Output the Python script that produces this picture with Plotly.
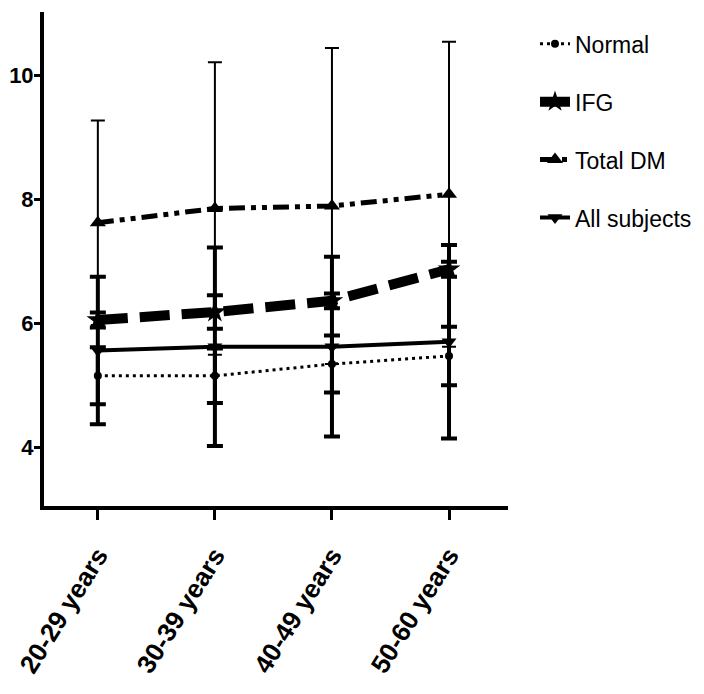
import plotly.graph_objects as go

categories = ["20-29 years", "30-39 years", "40-49 years", "50-60 years"]

normal_mean = [5.15, 5.15, 5.34, 5.47]
normal_sd = [0.46, 0.44, 0.46, 0.47]

ifg_mean = [6.05, 6.18, 6.36, 6.87]
ifg_sd = [0.12, 0.27, 0.12, 0.12]

dm_mean = [7.62, 7.85, 7.89, 8.08]
dm_sd = [1.65, 2.36, 2.55, 2.46]

all_mean = [5.56, 5.62, 5.62, 5.70]
all_sd = [1.19, 1.60, 1.45, 1.56]

FONT = "Liberation Sans, Arial, sans-serif"
x_idx = list(range(len(categories)))

fig = go.Figure()

fig.add_trace(go.Scatter(
    x=x_idx, y=dm_mean, name="Total DM", legendgroup="c",
    mode="lines+markers",
    line=dict(color="black", width=5, dash="16px,6px,5px,6px,5px,6px"),
    marker=dict(symbol="triangle-up", size=14, color="black"),
    error_y=dict(type="data", array=dm_sd, visible=True, color="black", thickness=2, width=7),
))
fig.add_trace(go.Scatter(
    x=x_idx, y=all_mean, name="All subjects", legendgroup="d",
    mode="lines+markers",
    line=dict(color="black", width=4),
    marker=dict(symbol="triangle-down", size=13, color="black"),
    error_y=dict(type="data", array=all_sd, visible=True, color="black", thickness=4, width=8),
))
fig.add_trace(go.Scatter(
    x=x_idx, y=normal_mean, name="Normal", legendgroup="a",
    mode="lines+markers",
    line=dict(color="black", width=3, dash="3px,4px"),
    marker=dict(symbol="circle", size=8, color="black"),
    error_y=dict(type="data", array=normal_sd, visible=True, color="black", thickness=4, width=8),
))
fig.add_trace(go.Scatter(
    x=x_idx, y=ifg_mean, name="IFG", legendgroup="b",
    mode="lines+markers",
    line=dict(color="black", width=10, dash="30px,12px"),
    marker=dict(symbol="star", size=17, color="black"),
    error_y=dict(type="data", array=ifg_sd, visible=True, color="black", thickness=4, width=8),
))

order = {"Normal": 1, "IFG": 2, "Total DM": 3, "All subjects": 4}
for tr in fig.data:
    tr.legendrank = order[tr.name]

# page body has an 8px margin, so the figure is sized/offset to compensate
fig.update_layout(
    width=696, height=686,
    margin=dict(l=36, r=196, t=4, b=188),
    plot_bgcolor="white", paper_bgcolor="white",
    font=dict(family=FONT, color="black"),
    showlegend=True,
    legend=dict(
        x=1.0582, xanchor="left", y=0.979, yanchor="top",
        font=dict(family=FONT, size=23, color="black"),
        traceorder="grouped", tracegroupgap=25,
        bgcolor="rgba(0,0,0,0)",
    ),
    xaxis=dict(
        range=[-0.46, 3.504],
        tickmode="array", tickvals=x_idx, ticktext=categories,
        tickangle=-58,
        tickfont=dict(family=FONT, size=26, color="black", weight="bold"),
        ticklabelstandoff=10,
        showline=True, linecolor="black", linewidth=4,
        ticks="outside", ticklen=10, tickwidth=3, tickcolor="black",
        showgrid=False, zeroline=False, automargin=False,
    ),
    yaxis=dict(
        range=[3.05, 11.02],
        tickmode="array", tickvals=[4, 6, 8, 10], ticktext=["4", "6", "8", "10"],
        tickfont=dict(family=FONT, size=22, color="black", weight="bold"),
        ticklabelstandoff=-4,
        showline=True, linecolor="black", linewidth=4,
        ticks="outside", ticklen=6, tickwidth=3, tickcolor="black",
        showgrid=False, zeroline=False, automargin=False,
    ),
)

fig.write_html("out.html")
